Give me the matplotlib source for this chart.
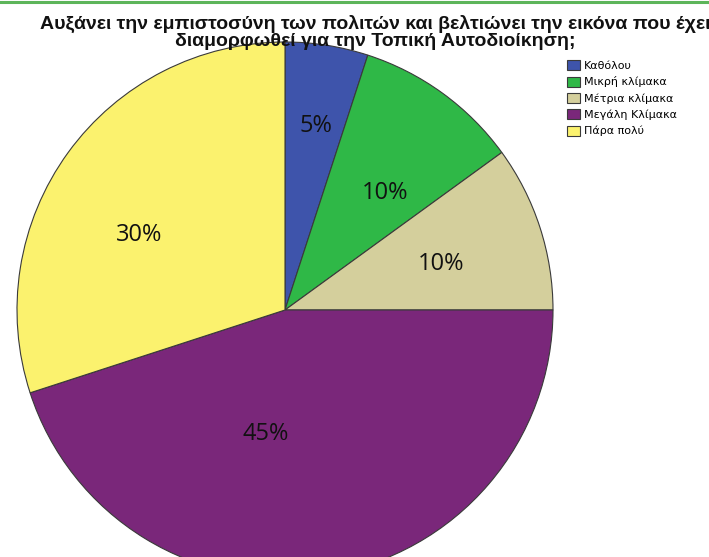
import matplotlib
matplotlib.use("Agg")
import matplotlib.pyplot as plt
from matplotlib.lines import Line2D

# Data
categories = ["Καθόλου", "Μικρή κλίμακα", "Μέτρια κλίμακα", "Μεγάλη Κλίμακα", "Πάρα πολύ"]
values = [5, 10, 10, 45, 30]
colors = ["#3E54AB", "#2FB847", "#D4CF9C", "#7A277A", "#FBF26E"]
title_lines = ["Αυξάνει την εμπιστοσύνη των πολιτών και βελτιώνει την εικόνα που έχει",
               "διαμορφωθεί για την Τοπική Αυτοδιοίκηση;"]

W, H = 709, 557
fig = plt.figure(figsize=(W / 100, H / 100), dpi=100)
fig.patch.set_facecolor("white")

# green top border
fig.add_artist(Line2D([0, 1], [1 - 1.5 / H, 1 - 1.5 / H], transform=fig.transFigure,
                      color="#5DB55A", lw=2.2))

# pie axes: center (285,310) px, radius 268 px
cx, cy, R = 285, 310, 268
ax = fig.add_axes([(cx - R) / W, (H - cy - R) / H, 2 * R / W, 2 * R / H])
ax.axis("off")

wedges, texts, autotexts = ax.pie(
    values, colors=colors, startangle=90, counterclock=False, radius=1,
    autopct=lambda p: f"{p:.0f}%", pctdistance=0.6,
    wedgeprops=dict(edgecolor="#3a3a3a", linewidth=0.8),
    textprops=dict(fontsize=17, family=["Open Sans", "DejaVu Sans"], color="#111111"),
)
ax.set_xlim(-1, 1)
ax.set_ylim(-1, 1)
ax.set_aspect("auto")

# label placement (pixel positions in the reference)
label_px = [(316, 126), (385, 193), (441, 264), (266, 434), (139, 235)]
for t, (px, py) in zip(autotexts, label_px):
    t.set_position(((px - cx) / R, (cy - py) / R))
    t.set_ha("center")
    t.set_va("center")

for line, base_y in zip(title_lines, [28.5, 45.5]):
    fig.text(375 / W, 1 - base_y / H, line, ha="center", va="baseline", fontsize=14,
             fontweight="bold", family=["Liberation Sans", "DejaVu Sans"],
             color="#111111")

leg = fig.legend(wedges, categories, loc="upper left",
                 bbox_to_anchor=(567 / W, 1 - 60 / H), frameon=False,
                 prop=dict(family=["DejaVu Sans"], size=8),
                 handlelength=1.2, handleheight=1.0, handletextpad=0.3,
                 labelspacing=0.5, borderaxespad=0, borderpad=0)

fig.savefig("out.png", dpi=100, facecolor="white")
